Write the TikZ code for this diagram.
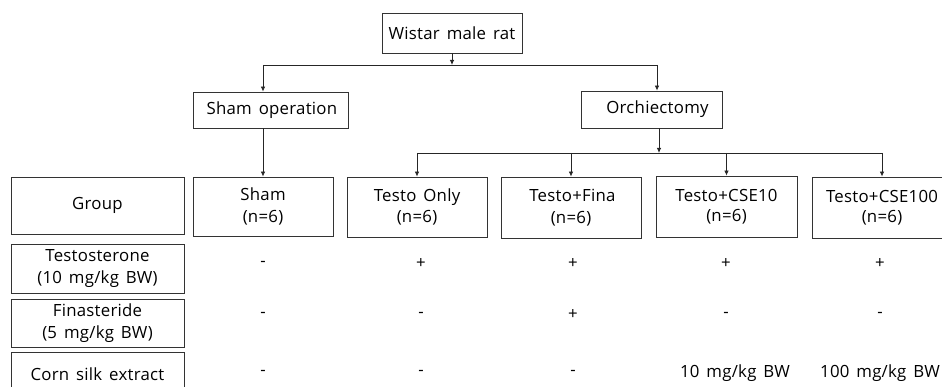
\documentclass[tikz,border=0pt]{standalone}
\usepackage{fontspec}
\setmainfont{Open Sans}[WordSpace=1.5, LetterSpace=1.5]
\usepackage{tikz}
\usetikzlibrary{arrows.meta}

\begin{document}
\begin{tikzpicture}[x=1pt, y=-1pt,
    box/.style={draw=black!80, line width=0.8pt, align=center, inner sep=0pt,
                font=\fontsize{16.8}{21.5}\selectfont},
    val/.style={font=\fontsize{16.8}{21.5}\selectfont},
    arr/.style={draw=black!85, line width=0.8pt, -{Latex[length=5pt,width=4.5pt]}},
    lin/.style={draw=black!85, line width=0.8pt}]
          \useasboundingbox (0,0) rectangle (942,387);
          \clip (0,0) rectangle (942,387);
          % tree
          \node[box, minimum width=140, minimum height=40] (rat) at (452,33) {Wistar male rat};
          \node[box, minimum width=155, minimum height=36] (shamop) at (270.5,110) {\,Sham operation};
          \node[box, minimum width=141, minimum height=37] (orch) at (651.5,109.5) {\hspace{12pt}Orchiectomy};
          % groups
          \node[box, minimum width=173, minimum height=57] (grp) at (97.5,205.5) {Group};
          \node[box, minimum width=140, minimum height=59] (sham) at (263,206.5) {Sham\\(n=6)};
          \node[box, minimum width=140, minimum height=60] (testo) at (417,207) {Testo Only\\(n=6)};
          \node[box, minimum width=140, minimum height=61] (fina) at (571,207.5) {\,Testo+Fina\\[1pt](n=6)};
          \node[box, minimum width=141, minimum height=61] (cse10) at (726.5,206.5) {Testo+CSE10\\[-2pt](n=6)};
          \node[box, minimum width=140, minimum height=61] (cse100) at (882,207.5) {Testo+CSE100\\[-2pt](n=6)};
          % row labels
          \node[box, minimum width=173, minimum height=49] (lbltesto) at (97.5,268.5) {Testosterone\\(10 mg/kg BW)};
          \node[box, minimum width=173, minimum height=48] (lblfina) at (97.5,323) {Finasteride\\(5 mg/kg BW)};
          \node[box, minimum width=173, minimum height=44] (lblcse) at (97.5,374) {Corn silk extract};
          % connectors
          \coordinate (j1) at (452,65);
          \coordinate (j2) at (659,153);
          \draw[arr] (rat.south -| j1) -- (j1);
          \draw[lin] (j1) -- (263,65) coordinate (jl);
          \draw[lin] (j1) -- (657,65) coordinate (jr);
          \draw[arr] (jl) -- (jl |- shamop.north);
          \draw[arr] (jr) -- (jr |- orch.north);
          \draw[arr] (shamop.south -| sham.north) -- (sham.north);
          \draw[arr] (orch.south -| j2) -- (j2);
          \draw[lin] (testo.north |- j2) -- (cse100.north |- j2);
          \draw[arr] (testo.north |- j2) -- (testo.north);
          \draw[arr] (fina.north |- j2) -- (fina.north);
          \draw[arr] (cse10.north |- j2) -- (cse10.north);
          \draw[arr] (cse100.north |- j2) -- (cse100.north);
          % values
          \node[val] (v11) at (263,264) {-};
          \node[val] (v12) at (421,264) {+};
          \node[val] (v13) at (573,264) {+};
          \node[val] (v14) at (726,264) {+};
          \node[val] (v15) at (880,264) {+};
          \node[val] (v21) at (263,315) {-};
          \node[val] (v22) at (421,315) {-};
          \node[val] (v23) at (573,315) {+};
          \node[val] (v24) at (726,315) {-};
          \node[val] (v25) at (880,315) {-};
          \node[val] (v31) at (263,373) {-};
          \node[val] (v32) at (421,373) {-};
          \node[val] (v33) at (573,373) {-};
          \node[val] (v34) at (735,373) {10 mg/kg BW};
          \node[val] (v35) at (880,373) {100 mg/kg BW};
        \end{tikzpicture}
\end{document}
